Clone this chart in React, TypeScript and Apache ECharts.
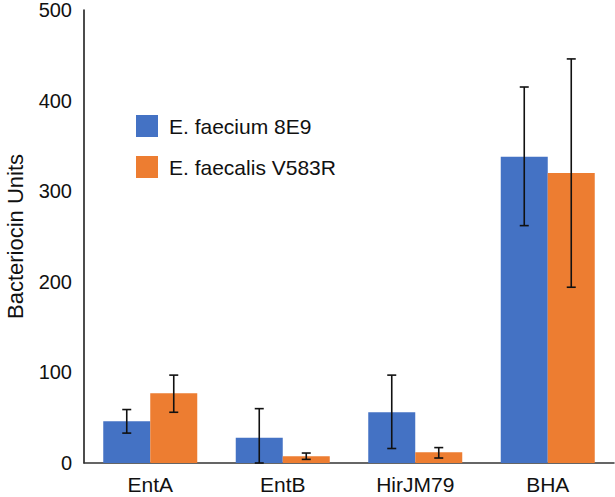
import React, { useEffect, useRef } from "react";
import * as echarts from "echarts";

const categories = ["EntA", "EntB", "HirJM79", "BHA"];
const seriesNames = ["E. faecium 8E9", "E. faecalis V583R"];
const faeciumValues = [46, 28, 56, 338];
const faecalisValues = [77, 7.5, 12, 320];
const faeciumLow = [33, 0, 16, 262];
const faeciumHigh = [59, 60, 97, 415];
const faecalisLow = [56, 4, 5.5, 194];
const faecalisHigh = [97, 11, 17, 446];
const yTicks = [0, 100, 200, 300, 400, 500];

const BAR_W = 47;

function errorSeries(low: number[], high: number[], offset: number) {
  return {
    type: "custom",
    silent: true,
    z: 10,
    data: categories.map((_, i) => [i, low[i], high[i]]),
    encode: { x: 0, y: [1, 2] },
    renderItem: (_params: any, api: any) => {
      const x = api.value(0);
      const top = api.coord([x, api.value(2)]);
      const bot = api.coord([x, api.value(1)]);
      const cx = top[0] + offset;
      const cap = 4.5;
      const style = { stroke: "#111", lineWidth: 1.6 };
      return {
        type: "group",
        children: [
          { type: "line", shape: { x1: cx, y1: top[1], x2: cx, y2: bot[1] }, style },
          { type: "line", shape: { x1: cx - cap, y1: top[1], x2: cx + cap, y2: top[1] }, style },
          { type: "line", shape: { x1: cx - cap, y1: bot[1], x2: cx + cap, y2: bot[1] }, style },
        ],
      };
    },
  };
}

export default function App() {
  const ref = useRef<HTMLDivElement>(null);
  useEffect(() => {
    if (!ref.current) return;
    const chart = echarts.init(ref.current, undefined, { renderer: "svg" });
    const font = "Liberation Sans, Arial, Helvetica, sans-serif";
    chart.setOption({
      animation: false,
      backgroundColor: "#ffffff",
      textStyle: { fontFamily: font },
      grid: {
        left: 84,
        right: 1,
        top: 10,
        bottom: 34,
        containLabel: false,
        outerBoundsMode: "none",
      },
      legend: {
        orient: "vertical",
        left: 136,
        top: 115,
        padding: 0,
        itemWidth: 22,
        itemHeight: 22,
        itemGap: 19,
        icon: "rect",
        data: seriesNames,
        textStyle: { fontSize: 21, color: "#111", fontFamily: font, padding: [0, 0, 0, 6] },
      },
      xAxis: {
        type: "category",
        data: categories,
        axisLine: { lineStyle: { color: "#333", width: 1.5 } },
        axisTick: { show: false },
        axisLabel: { fontSize: 21, color: "#111", margin: 11, fontFamily: font },
      },
      yAxis: {
        type: "value",
        min: 0,
        max: 500,
        interval: 100,
        name: "Bacteriocin Units",
        nameLocation: "middle",
        nameGap: 58,
        nameTextStyle: { fontSize: 22, color: "#111", fontFamily: font },
        axisLine: { show: true, lineStyle: { color: "#111", width: 1.5 } },
        axisTick: { show: false },
        splitLine: { show: false },
        axisLabel: {
          fontSize: 20,
          color: "#111",
          margin: 12,
          fontFamily: font,
          formatter: (v: number) => (yTicks.includes(v) ? String(v) : ""),
        },
      },
      series: [
        {
          name: seriesNames[0],
          type: "bar",
          data: faeciumValues,
          barWidth: BAR_W,
          barGap: "0%",
          itemStyle: { color: "#4472C4" },
        },
        {
          name: seriesNames[1],
          type: "bar",
          data: faecalisValues,
          barWidth: BAR_W,
          barGap: "0%",
          itemStyle: { color: "#ED7D31" },
        },
        errorSeries(faeciumLow, faeciumHigh, -BAR_W / 2),
        errorSeries(faecalisLow, faecalisHigh, BAR_W / 2),
      ],
    });
    return () => chart.dispose();
  }, []);
  return (
    <div
      ref={ref}
      style={{ position: "absolute", left: 0, top: 0, width: 615, height: 497 }}
    />
  );
}
